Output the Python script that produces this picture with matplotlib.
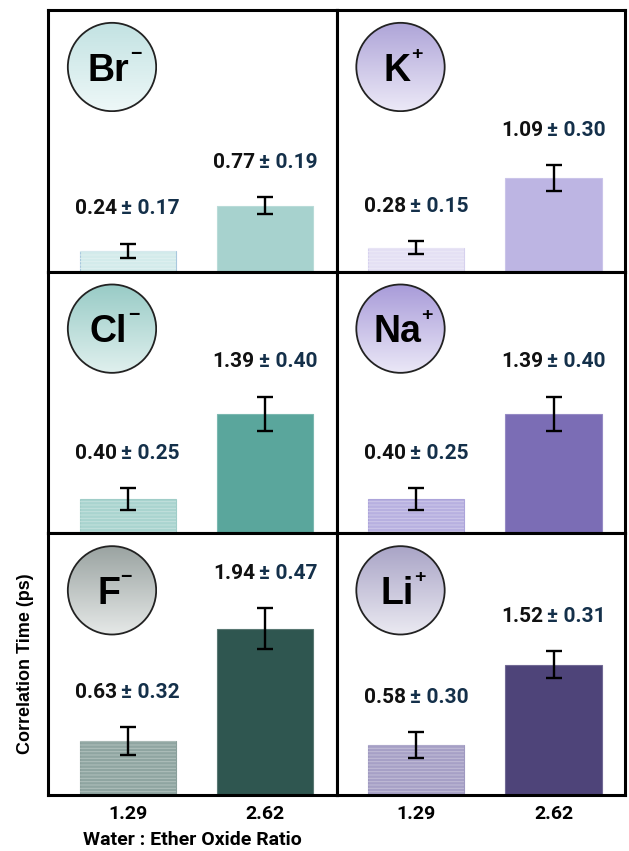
import matplotlib.pyplot as plt
import numpy as np
from matplotlib.patches import Circle
from matplotlib.colors import LinearSegmentedColormap, to_rgb

plt.rcParams['font.family'] = ['Roboto', 'DejaVu Sans']
plt.rcParams['hatch.linewidth'] = 0.7

# ratios on the x axis
ratios = ['1.29', '2.62']

# ion name, superscript sign, mean times and error ranges (ps)
ions = ['Br', 'K', 'Cl', 'Na', 'F', 'Li']
charges = ['-', '+', '-', '+', '-', '+']
mean_low = [0.24, 0.28, 0.40, 0.40, 0.63, 0.58]
err_low = [0.17, 0.15, 0.25, 0.25, 0.32, 0.30]
mean_high = [0.77, 1.09, 1.39, 1.39, 1.94, 1.52]
err_high = [0.19, 0.30, 0.40, 0.40, 0.47, 0.31]

# colours: low-ratio bar, high-ratio bar, circle top, circle bottom
low_colors = ['#d3ebeb', '#e4e0f4', '#a9d4cf', '#b7b0e0', '#8fa5a1', '#a6a0c6']
high_colors = ['#a7d2ce', '#bdb5e3', '#5aa69c', '#7b6db5', '#2f5650', '#4e4479']
circ_top = ['#c2e2e2', '#aea4d8', '#98cbc6', '#a89bd9', '#9aa3a1', '#a9a4c6']
circ_bot = ['#eef8f8', '#ece9f7', '#e0f0ee', '#ebe8f7', '#e6e9e8', '#ebeaf2']
low_edges = ['#a9c8de', '#d6d1ee', '#a0cdc8', '#aca4da', '#8a9f9b', '#9f99c0']


def lighten(col, f):
    rgb = np.array(to_rgb(col))
    return tuple(rgb + (1 - rgb) * f)


W, H = 629, 851
fig = plt.figure(figsize=(W / 100, H / 100), dpi=100)
left, right, top, bottom = 48 / W, 625 / W, 1 - 10 / H, 1 - 795 / H
gs = fig.add_gridspec(3, 2, left=left, right=right, top=top, bottom=bottom,
                      wspace=0, hspace=0)

x = np.arange(2)
navy = '#14304a'
grad = np.linspace(0, 1, 256).reshape(-1, 1)
badge_font = ['Liberation Sans', 'DejaVu Sans']

for i, ion in enumerate(ions):
    r, c = divmod(i, 2)
    ax = fig.add_subplot(gs[r, c])
    vals = [mean_low[i], mean_high[i]]
    errs = [err_low[i], err_high[i]]

    # striped low-ratio bar, solid high-ratio bar
    ax.bar(x[0], vals[0], width=0.7, color=low_colors[i],
           edgecolor=low_edges[i], linewidth=0.8, zorder=2)
    ax.bar(x[0], vals[0], width=0.7, color='none',
           edgecolor=lighten(low_colors[i], 0.3), linewidth=0, hatch='-----',
           zorder=2)
    ax.bar(x[1], vals[1], width=0.7, color=high_colors[i],
           edgecolor=lighten(high_colors[i], 0.2), linewidth=0.8, zorder=2)
    # the bar spans the stated range (±half on each side)
    half = [e / 2 for e in errs]
    ax.errorbar(x, vals, yerr=half, fmt='none', ecolor='black',
                elinewidth=1.7, capsize=6, capthick=1.7, zorder=3)

    for xi, v, h, e in zip(x, vals, half, errs):
        ty = v + h + 0.41
        ax.text(xi - 0.075, ty, f'{v:.2f}', ha='right', va='center',
                fontsize=15, fontweight='bold', color='#111111')
        ax.text(xi - 0.045, ty, f'± {e:.2f}', ha='left', va='center',
                fontsize=15, fontweight='bold', color=navy)

    ax.set_xlim(-0.58, 1.52)
    ax.set_ylim(0, 3.05)
    ax.set_yticks([])
    for s in ax.spines.values():
        s.set_linewidth(2.2)
    if r == 2:
        ax.set_xticks(x)
        ax.set_xticklabels(ratios, fontsize=14, fontweight='bold')
        ax.tick_params(axis='x', length=0, pad=7)
    else:
        ax.set_xticks([])

    # ion badge in the upper-left corner of the panel
    bb = ax.get_position()
    cx = bb.x0 + 64 / W
    cy = bb.y1 - 57 / H
    rad = 45.5
    cax = fig.add_axes([cx - rad / W, cy - rad / H, 2 * rad / W, 2 * rad / H])
    cax.set_xlim(-1.03, 1.03)
    cax.set_ylim(-1.03, 1.03)
    cax.axis('off')
    cmap = LinearSegmentedColormap.from_list('g', [circ_top[i], circ_bot[i]])
    im = cax.imshow(grad, cmap=cmap, extent=(-1, 1, -1, 1), origin='upper',
                    aspect='auto', zorder=1)
    im.set_clip_path(Circle((0, 0), 1, transform=cax.transData))
    cax.add_patch(Circle((0, 0), 1, facecolor='none', edgecolor='#222222',
                         linewidth=1.3, zorder=2))
    sign = '−' if charges[i] == '-' else '+'
    ion_txt = cax.text(-0.08, -0.08, ion, ha='center', va='center',
                       fontsize=27, fontweight='bold', family=badge_font)
    cax.annotate(sign, xy=(1, 1), xycoords=ion_txt, xytext=(0.5, 5),
                 textcoords='offset points', ha='left', va='top',
                 fontsize=14, fontweight='bold', family=badge_font)

    if r == 2 and c == 0:
        ax.set_xlabel('Water : Ether Oxide Ratio', fontsize=14,
                      fontweight='bold', labelpad=6)
        ax.set_ylabel('Correlation Time (ps)', fontsize=13, fontweight='bold',
                      family=badge_font, labelpad=10)

fig.savefig('out.png', dpi=100)
